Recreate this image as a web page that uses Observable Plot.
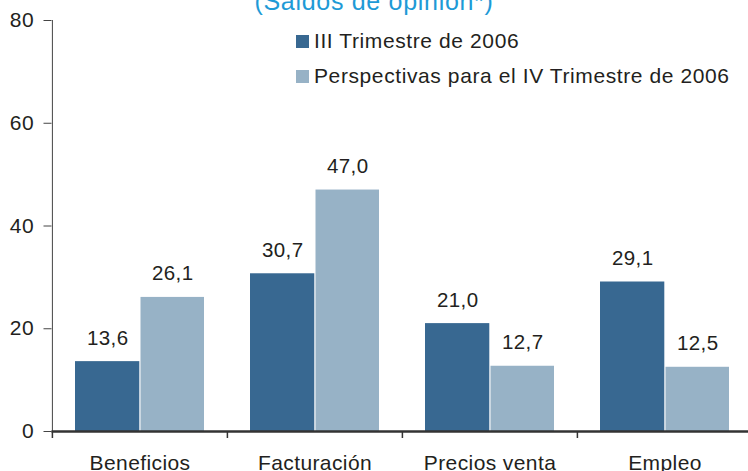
<!DOCTYPE html>
<html><head><meta charset="utf-8">
<script src="https://cdn.jsdelivr.net/npm/d3@7"></script>
<script src="https://cdn.jsdelivr.net/npm/@observablehq/plot@0.6"></script>
<style>
body{margin:0;background:#fff;}
#wrap{position:relative;width:748px;height:471px;overflow:hidden;font-family:"Liberation Sans",Arial,sans-serif;color:#231f20;}
#title{position:absolute;left:0;width:748px;text-align:center;top:-11px;color:#1e9ad6;font-size:25px;line-height:25px;letter-spacing:0.7px;white-space:nowrap;}
.lg{position:absolute;left:314px;font-size:21px;line-height:21px;letter-spacing:0.6px;white-space:nowrap;}
.sw{position:absolute;left:296px;width:12.5px;height:12.5px;}
#chart{position:absolute;left:0;top:0;}
</style></head>
<body>
<div id="wrap">
  <div id="chart"></div>
  <div id="title">(Saldos de opinión*)</div>
  <div id="legend"></div>
</div>
<script>
const categories = ["Beneficios", "Facturación", "Precios venta", "Empleo"];
const seriesNames = ["III Trimestre de 2006", "Perspectivas para el IV Trimestre de 2006"];
const q3Values = [13.6, 30.7, 21.0, 29.1];
const q4Values = [26.1, 47.0, 12.7, 12.5];
const yTicks = [0, 20, 40, 60, 80];
const colors = ["#386891", "#97b2c6"];

const data = [];
categories.forEach((c, i) => {
  data.push({cat: c, s: 0, v: q3Values[i]});
  data.push({cat: c, s: 1, v: q4Values[i]});
});
const fmt = v => v.toFixed(1).replace(".", ",");

const x0 = 51.5, x1 = 752.3;
const bw = (x1 - x0) / categories.length;
const textColor = "#231f20";

const plot = Plot.plot({
  width: 748,
  height: 471,
  marginLeft: 51.5,
  marginRight: 0,
  marginTop: 20,
  marginBottom: 40,
  style: {fontFamily: "'Liberation Sans', Arial, sans-serif", fontSize: "20px", color: textColor, background: "transparent"},
  x: {type: "band", domain: categories, range: [x0, x1], padding: 0, label: null},
  y: {domain: [0, 80], label: null},
  marks: [
    Plot.barY(data.filter(d => d.s === 0), {x: "cat", y: "v", fill: colors[0], insetLeft: 23, insetRight: bw - 87.5}),
    Plot.barY(data.filter(d => d.s === 1), {x: "cat", y: "v", fill: colors[1], insetLeft: 88.5, insetRight: 23}),
    Plot.text(data.filter(d => d.s === 0), {x: "cat", y: "v", text: d => fmt(d.v), dx: -(bw / 2 - 55.3), dy: -17, lineAnchor: "bottom", fill: textColor, fontSize: 20.5}),
    Plot.text(data.filter(d => d.s === 1), {x: "cat", y: "v", text: d => fmt(d.v), dx: 120.3 - bw / 2, dy: -17, lineAnchor: "bottom", fill: textColor, fontSize: 20.5}),
    Plot.axisY({ticks: yTicks, tickSize: 8, tickPadding: 10, stroke: "#444", fill: textColor, fontSize: 21, label: null}),
    Plot.ruleX([categories[0]], {dx: -bw / 2, y1: 0, y2: 80, stroke: "#444", strokeWidth: 1}),
    Plot.axisX({tickSize: 0, tickPadding: 24, fill: textColor, fontSize: 21, label: null}),
    Plot.axisX({tickSize: 7, tickFormat: () => "", dx: -bw / 2, stroke: "#333", strokeWidth: 1.5, label: null}),
    Plot.ruleY([0], {stroke: "#333", strokeWidth: 2.5})
  ]
});
plot.style.letterSpacing = "0.4px";
document.getElementById("chart").appendChild(plot);

const legend = document.getElementById("legend");
const rowTops = [30.4, 65.4];
const swTops = [35, 70];
seriesNames.forEach((name, i) => {
  const sw = document.createElement("div");
  sw.className = "sw";
  sw.style.top = swTops[i] + "px";
  sw.style.background = colors[i];
  legend.appendChild(sw);
  const t = document.createElement("div");
  t.className = "lg";
  t.style.top = rowTops[i] + "px";
  t.textContent = name;
  legend.appendChild(t);
});
</script>
</body></html>
